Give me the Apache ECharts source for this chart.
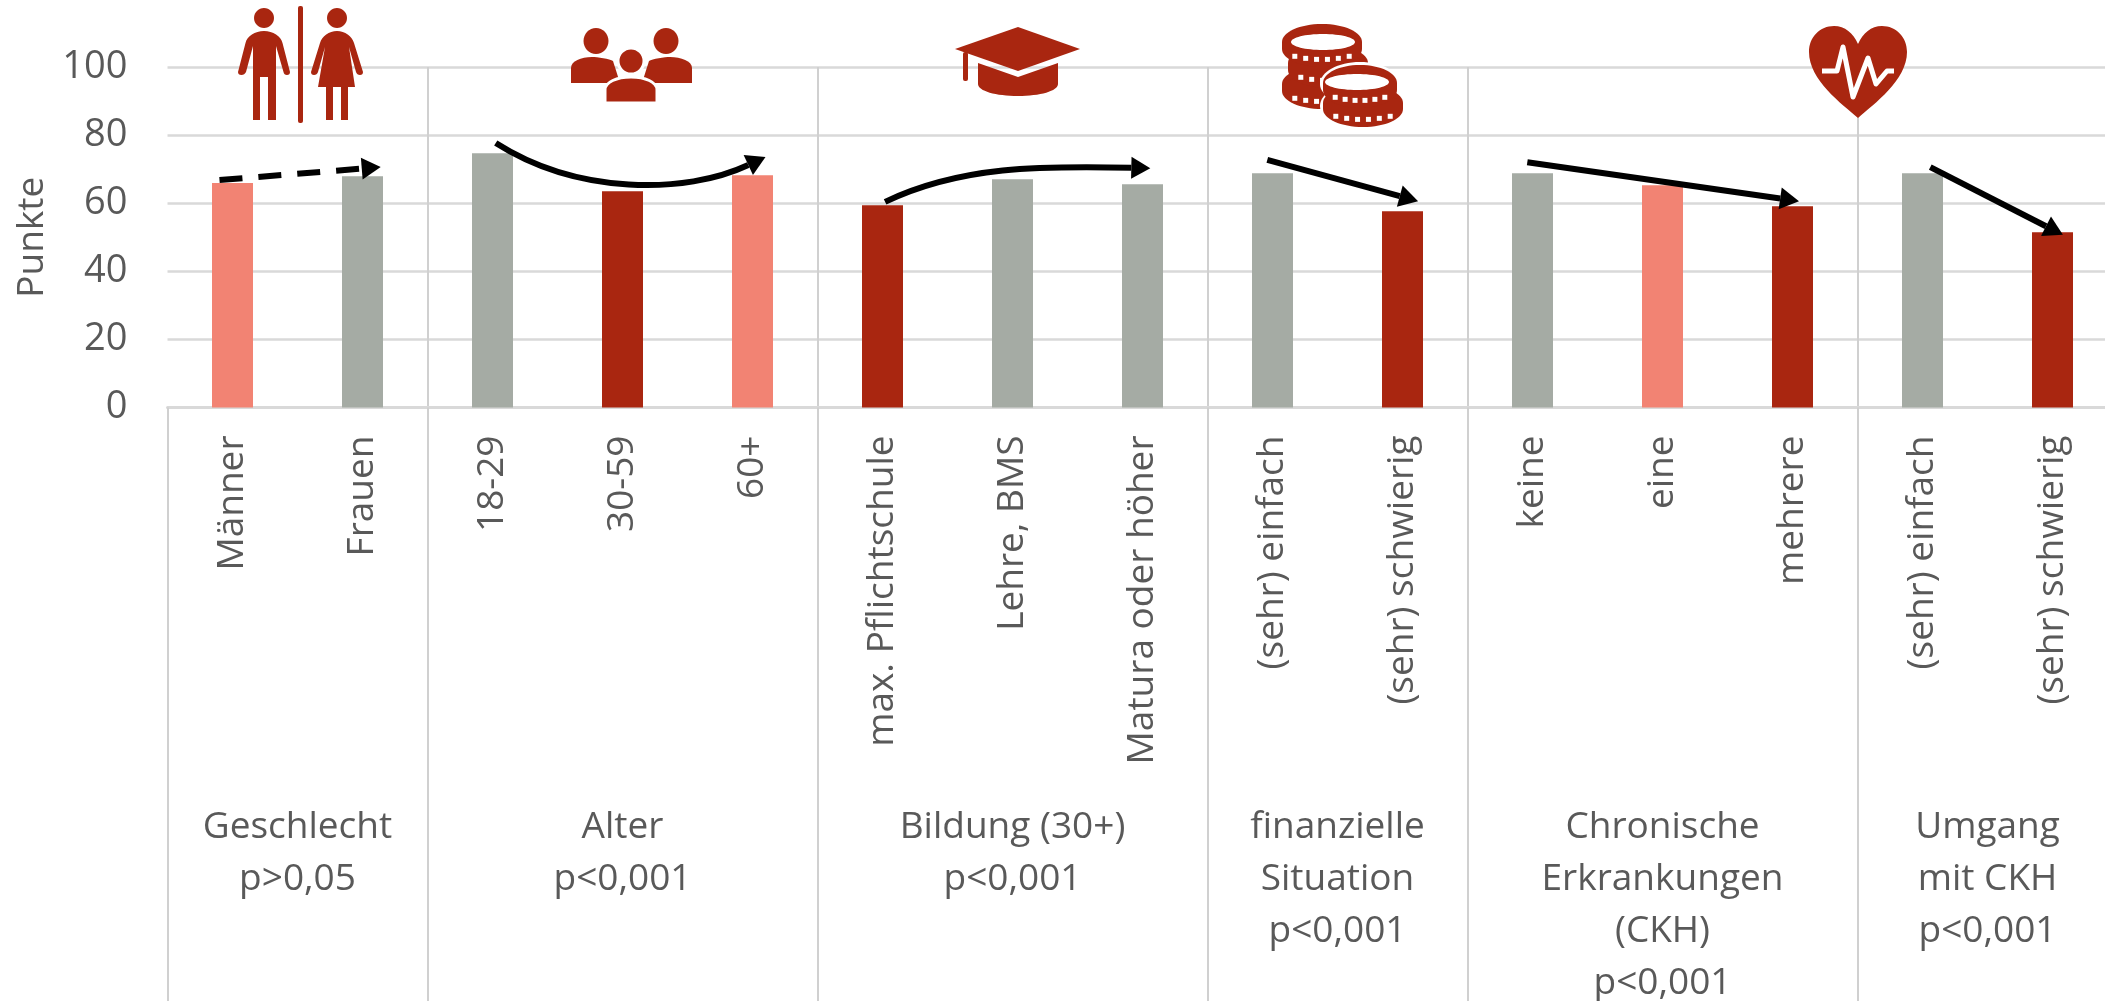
<!DOCTYPE html>
<html>
<head>
<meta charset="utf-8">
<title>Punkte nach Gruppen</title>
<script src="https://cdn.jsdelivr.net/npm/echarts@6/dist/echarts.min.js"></script>
<style>
  html, body { margin: 0; padding: 0; background: #fff; }
  #chart { width: 2105px; height: 1001px; }
</style>
</head>
<body>
<div id="chart"></div>
<script>
const categories = ['Männer', 'Frauen', '18-29', '30-59', '60+', 'max. Pflichtschule', 'Lehre, BMS', 'Matura oder höher',
    '(sehr) einfach', '(sehr) schwierig', 'keine', 'eine', 'mehrere', '(sehr) einfach', '(sehr) schwierig'];
const values = [65.9, 67.9, 74.7, 63.5, 68.2, 59.4, 67.0, 65.6, 68.8, 57.6, 68.8, 65.3, 59.1, 68.8, 51.5];
// g = grau, h = hell, d = dunkel
const barTones = ['h', 'g', 'g', 'd', 'h', 'd', 'g', 'g', 'g', 'd', 'g', 'h', 'd', 'g', 'd'];
const groupSizes = [2, 3, 3, 2, 3, 2];
const groupLabels = ['Geschlecht\np>0,05', 'Alter\np<0,001', 'Bildung (30+)\np<0,001', 'finanzielle\nSituation\np<0,001',
    'Chronische\nErkrankungen\n(CKH)\np<0,001', 'Umgang\nmit CKH\np<0,001'];
const yTicks = [0, 100, 20];

// Pfeile in Achsenwerten: [x, Punkte], 2 Punkte = gerade, 4 Punkte = Kurve
const arrowPaths = [
    [[0.40, 66.8], [1.64, 70.6]],
    [[2.525, 77.7], [3.15, 62.5], [3.98, 62.5], [4.60, 73.6]],
    [[5.52, 60.4], [6.10, 71], [6.72, 71], [7.56, 70.3]],
    [[8.46, 72.7], [9.62, 60.6]],
    [[10.46, 72], [12.55, 60.6]],
    [[13.56, 70.6], [14.58, 50.7]]
];
const dashedArrows = [0];

const RED = '#A92610';
const SALMON = '#F28373';
const GREY = '#A5ABA4';
const TEXT = '#595959';
const toneColors = {g: GREY, h: SALMON, d: RED};

// Gruppengrenzen und -mitten aus den Gruppengrößen
const boundaries = [];
const groupCenters = [];
let pos = 0;
groupSizes.forEach(n => {
    boundaries.push(pos);
    groupCenters.push(pos + n / 2);
    pos += n;
});

const path = (d, x, y, width, height, fill, extra) => ({
    type: 'path',
    shape: {pathData: d, x, y, width, height, layout: 'cover'},
    style: Object.assign({fill}, extra)
});
const ellipse = (cx, cy, rx, ry, fill, extra) => ({
    type: 'ellipse', shape: {cx, cy, rx, ry}, style: Object.assign({fill}, extra)
});
const rect = (x, y, width, height, fill, r) => ({
    type: 'rect', shape: {x, y, width, height, r: r || 0}, style: {fill}
});

function personIcons() {
    return [
        ellipse(264, 18, 10, 10, RED),
        path('M264 31C273 31 281 36 282.5 43L290 72Q290 75 287 75Q284 75 283.5 72L276 46L276 120L268 120L268 77L260 77L260 120L253 120L253 46L246 72Q244.5 75 241.5 75Q238 75 238 72L245.5 43C247 36 255 31 264 31Z',
            238, 31, 52, 89, RED),
        rect(298, 6, 5, 117, RED, 2),
        ellipse(337, 18, 10, 10, RED),
        path('M337 31C345 31 352 36 354 43L363 72Q363 75 360 75Q357 75 356 72L349 47L355 87L348 87L348 120L341 120L341 87L333 87L333 120L326 120L326 87L318 87L325 47L318 72Q317 75 314 75Q311 75 311 72L320 43C322 36 329 31 337 31Z',
            311, 31, 52, 89, RED)
    ];
}

function peopleIcons() {
    return [
        ellipse(596, 41, 12.5, 13, RED),
        ellipse(666, 41, 12.5, 13, RED),
        path('M571 83V68C571 61 581 57 592 57C597 57 610 59 613 61L620 83Z', 571, 57, 49, 26, RED),
        path('M642 83L649 61C652 59 665 57 670 57C681 57 692 61 692 68V83Z', 642, 57, 50, 26, RED),
        ellipse(631, 61, 13, 13, RED, {stroke: '#fff', lineWidth: 3}),
        path('M605 103V90C605 82 617 77 631 77C645 77 657 82 657 90V103Z', 605, 77, 52, 26, RED, {stroke: '#fff', lineWidth: 3})
    ];
}

function capIcons() {
    return [
        {type: 'polygon', shape: {points: [[955, 49], [1018, 27], [1080, 49], [1018, 71]]}, style: {fill: RED}},
        rect(963, 52, 5, 29, RED, 2),
        path('M978 63L1018 77L1058 63V84C1058 91 1040 96 1018 96C996 96 978 91 978 84Z', 978, 63, 80, 33, RED)
    ];
}

// eine Münze: oben und unten Ellipse, dazwischen Rechteck, Rändelung am unteren Rand
function coin(left, top, width, height) {
    const ry = 18;
    const cx = left + width / 2;
    const els = [
        ellipse(cx, top + ry, width / 2, ry, RED),
        rect(left, top + ry, width, height - 2 * ry, RED),
        ellipse(cx, top + height - ry, width / 2, ry, RED)
    ];
    [-0.8, -0.48, -0.16, 0.16, 0.48, 0.8].forEach(t => {
        const y = top + height - 12 + 5 * (1 - t * t) - 1;
        els.push(rect(cx + t * (width / 2 - 6) - 2.5, y - 2, 5, 5, '#fff'));
    });
    return els;
}

function coinIcons() {
    return [].concat(
        coin(1282, 66, 80, 43),
        coin(1288, 45, 80, 43),
        coin(1282, 24, 80, 43),
        [ellipse(1323, 42, 32, 8, '#fff')],
        // weißer Rand um den rechten Stapel
        [ellipse(1360, 84, 40, 22, '#fff'), ellipse(1363, 106, 43, 24, '#fff')],
        coin(1323, 85, 80, 42),
        coin(1323, 65, 74, 43),
        [ellipse(1357, 82, 32, 8, '#fff')]
    );
}

function heartIcons() {
    return [
        path('M1858 118C1842 104 1809 80 1809 52C1809 37 1820 26 1834 26C1845 26 1853 33 1858 44C1863 33 1871 26 1882 26C1896 26 1907 37 1907 52C1907 80 1874 104 1858 118Z',
            1809, 26, 98, 92, RED),
        {
            type: 'polyline',
            shape: {points: [[1822, 71], [1837, 71], [1843, 47], [1853, 97], [1868, 58], [1876, 84], [1887, 71], [1894, 71]]},
            style: {fill: 'none', stroke: '#fff', lineWidth: 5, lineJoin: 'round'}
        }
    ];
}

function renderArrow(params, api) {
    const idx = params.dataIndex;
    const pts = arrowPaths[idx].map(p => api.coord(p));
    const tip = pts[pts.length - 1];
    const before = pts[pts.length - 2];
    const angle = Math.atan2(tip[1] - before[1], tip[0] - before[0]);
    const headLen = 19, headHalf = 11;
    const ux = Math.cos(angle), uy = Math.sin(angle);
    const base = [tip[0] - ux * headLen, tip[1] - uy * headLen];
    const lineStyle = {
        fill: 'none', stroke: '#000', lineWidth: 6,
        lineDash: dashedArrows.includes(idx) ? [23, 16] : null
    };
    let line;
    if (pts.length === 2) {
        line = {
            type: 'line',
            shape: {x1: pts[0][0], y1: pts[0][1], x2: base[0], y2: base[1]},
            style: lineStyle
        };
    } else {
        line = {
            type: 'bezierCurve',
            shape: {
                x1: pts[0][0], y1: pts[0][1],
                cpx1: pts[1][0], cpy1: pts[1][1],
                cpx2: pts[2][0], cpy2: pts[2][1],
                x2: base[0], y2: base[1]
            },
            style: lineStyle
        };
    }
    const head = {
        type: 'polygon',
        shape: {points: [tip,
            [base[0] - uy * headHalf, base[1] + ux * headHalf],
            [base[0] + uy * headHalf, base[1] - ux * headHalf]]},
        style: {fill: '#000'}
    };
    return {type: 'group', children: [line, head]};
}

function renderGroupLabel(params, api) {
    const p = api.coord([api.value(0), 0]);
    return {
        type: 'text',
        style: {
            x: p[0], y: p[1] + 394,
            text: groupLabels[params.dataIndex],
            fill: TEXT,
            font: '37px "Open Sans"',
            lineHeight: 52,
            align: 'center',
            verticalAlign: 'top'
        }
    };
}

function renderIcons() {
    return {
        type: 'group',
        children: [].concat(personIcons(), peopleIcons(), capIcons(), coinIcons(), heartIcons())
    };
}

const chart = echarts.init(document.getElementById('chart'));
chart.setOption({
    animation: false,
    backgroundColor: '#fff',
    grid: {left: 167.5, top: 67, width: 1950, height: 340.5, containLabel: false, outerBoundsMode: 'none'},
    xAxis: [{
        type: 'category',
        data: categories,
        position: 'bottom',
        axisLine: {lineStyle: {color: '#D9D9D9', width: 3}},
        axisTick: {
            show: true,
            length: 594,
            interval: i => boundaries.includes(i),
            lineStyle: {color: '#D0D0D0', width: 2}
        },
        axisLabel: {
            interval: 0, rotate: 90, margin: 28,
            padding: [8, 0, 0, 0],
            color: TEXT, fontFamily: 'Open Sans', fontSize: 37
        },
        splitLine: {
            show: true,
            interval: i => i > 0 && boundaries.includes(i),
            lineStyle: {color: '#D0D0D0', width: 2}
        }
    }, {
        type: 'value', min: 0, max: categories.length, show: false
    }],
    yAxis: {
        type: 'value',
        min: yTicks[0], max: yTicks[1], interval: yTicks[2],
        name: 'Punkte',
        nameLocation: 'middle',
        nameGap: 117,
        nameTextStyle: {color: TEXT, fontFamily: 'Open Sans', fontSize: 37},
        axisLine: {show: false},
        axisTick: {show: false},
        axisLabel: {margin: 40, color: TEXT, fontFamily: 'Open Sans', fontSize: 38},
        splitLine: {lineStyle: {color: '#D9D9D9', width: 2.5}}
    },
    series: [{
        type: 'bar',
        barWidth: 41,
        data: values.map((v, i) => ({value: v, itemStyle: {color: toneColors[barTones[i]]}}))
    }, {
        type: 'custom',
        xAxisIndex: 1,
        clip: false,
        z: 5,
        renderItem: renderArrow,
        data: arrowPaths.map(p => p[0])
    }, {
        type: 'custom',
        xAxisIndex: 1,
        clip: false,
        z: 5,
        renderItem: renderGroupLabel,
        data: groupCenters.map(c => [c, 0])
    }, {
        type: 'custom',
        xAxisIndex: 1,
        clip: false,
        silent: true,
        z: 10,
        renderItem: renderIcons,
        data: [[0, 0]]
    }]
});
</script>
</body>
</html>
